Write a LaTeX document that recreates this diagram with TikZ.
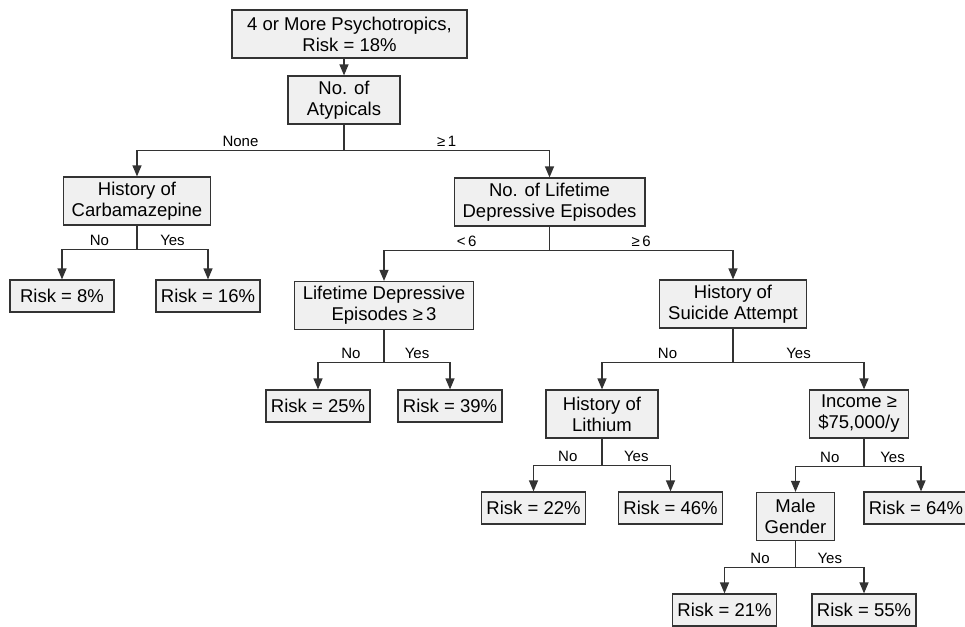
\documentclass[tikz,border=0pt]{standalone}
\usepackage{fontspec}
\setmainfont{Liberation Sans}
\usetikzlibrary{arrows.meta}

\definecolor{boxfill}{gray}{0.94}
\definecolor{linegray}{gray}{0.2}
\newcommand{\risk}[1]{Risk = #1\%}

\begin{document}
\begin{tikzpicture}[x=1pt,y=-1pt]
\tikzstyle{every node}=[font=\fontsize{18.5}{21}\selectfont]
\tikzstyle{box}=[draw=linegray, fill=boxfill, line width=1.2pt, align=center, inner xsep=8.5pt, inner ysep=3pt, minimum height=48pt]
\tikzstyle{riskbox}=[box, minimum height=32pt, minimum width=104pt, inner xsep=5pt]
\tikzstyle{arr}=[draw=linegray, line width=1.2pt, -{Triangle[length=11pt,width=9pt]}]
\tikzstyle{lbl}=[font=\fontsize{15}{17}\selectfont, above=3pt, inner sep=1pt, text height=1.6ex, text depth=0pt, pos=.25]

\useasboundingbox (0,0) rectangle (965,626);

% tree nodes
\node[box, minimum width=235pt] (top) at (349.5,34) {4 or More Psychotropics,\\\risk{18}};
\node[box, minimum width=112pt] (atyp) at (344,100) {No. of\\Atypicals};
\node[box] (carb) at (137,201) {History of\\Carbamazepine};
\node[box] (depr) at (549.5,202) {No. of Lifetime\\Depressive Episodes};
\node[riskbox] (r8) at (62,296) {\risk{8}};
\node[riskbox] (r16) at (208,296) {\risk{16}};
\node[box] (lde) at (384,305.5) {Lifetime Depressive\\Episodes ≥\,3};
\node[box] (susp) at (733,304) {History of\\Suicide Attempt};
\node[riskbox] (r25) at (318,406) {\risk{25}};
\node[riskbox] (r39) at (450,406) {\risk{39}};
\node[box, minimum width=112pt] (lith) at (602,414) {History of\\Lithium};
\node[box] (inc) at (859,414) {Income ≥\\\$75,000/y};
\node[riskbox] (r22) at (533.5,508) {\risk{22}};
\node[riskbox] (r46) at (670.5,508) {\risk{46}};
\node[riskbox] (r64) at (916,508) {\risk{64}};
\node[box] (male) at (795.5,516.5) {Male\\Gender};
\node[riskbox] (r21) at (724.5,610) {\risk{21}};
\node[riskbox] (r55) at (864,610) {\risk{55}};

% connectors
\draw[arr] (top.south -| atyp.north) -- (atyp.north);
\draw[arr] (atyp.south) -- ++(0,26) -| node[lbl]{None} (carb.north);
\draw[arr] (atyp.south) -- ++(0,26) -| node[lbl]{≥\,1} (depr.north);
\draw[arr] (carb.south) -- ++(0,24) -| node[lbl]{No} (r8.north);
\draw[arr] (carb.south) -- ++(0,24) -| node[lbl]{Yes} (r16.north);
\draw[arr] (depr.south) -- ++(0,24) -| node[lbl]{<\,6} (lde.north);
\draw[arr] (depr.south) -- ++(0,24) -| node[lbl]{≥\,6} (susp.north);
\draw[arr] (lde.south) -- ++(0,32.5) -| node[lbl]{No} (r25.north);
\draw[arr] (lde.south) -- ++(0,32.5) -| node[lbl]{Yes} (r39.north);
\draw[arr] (susp.south) -- ++(0,34) -| node[lbl]{No} (lith.north);
\draw[arr] (susp.south) -- ++(0,34) -| node[lbl]{Yes} ([xshift=5pt]inc.north);
\draw[arr] (lith.south) -- ++(0,27) -| node[lbl]{No} (r22.north);
\draw[arr] (lith.south) -- ++(0,27) -| node[lbl]{Yes} (r46.north);
\draw[arr] ([xshift=5pt]inc.south) -- ++(0,28) -| node[lbl]{No} (male.north);
\draw[arr] ([xshift=5pt]inc.south) -- ++(0,28) -| node[lbl]{Yes} ([xshift=5pt]r64.north);
\draw[arr] (male.south) -- ++(0,26.5) -| node[lbl]{No} (r21.north);
\draw[arr] (male.south) -- ++(0,26.5) -| node[lbl]{Yes} (r55.north);

\end{tikzpicture}
\end{document}
